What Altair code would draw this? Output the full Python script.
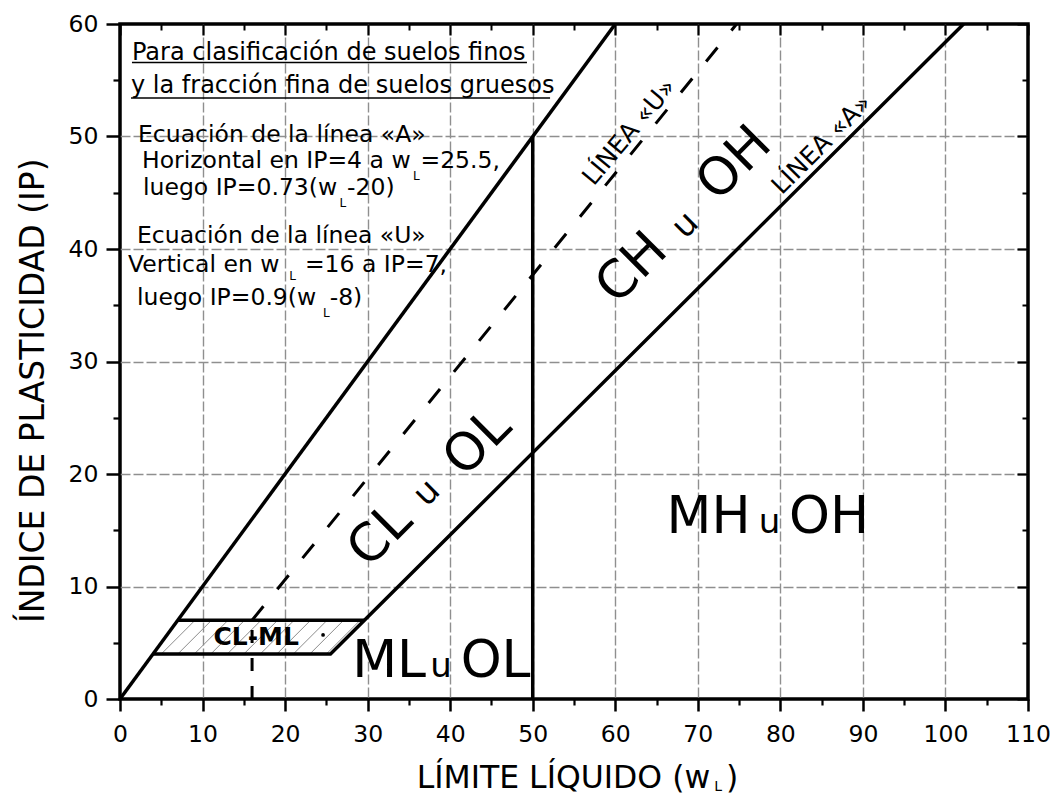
import altair as alt
import numpy as np
import pandas as pd

# ---------------- axis tick values ----------------
X_MAJOR = [0, 10, 20, 30, 40, 50, 60, 70, 80, 90, 100, 110]
X_MINOR = [5, 15, 25, 35, 45, 55, 65, 75, 85, 95, 105]
Y_MAJOR = [0, 10, 20, 30, 40, 50, 60]
Y_MINOR = [5, 15, 25, 35, 45, 55]
X_GRID = [10, 20, 30, 40, 50, 60, 70, 80, 90, 100]
Y_GRID = [10, 20, 30, 40, 50]

# ---------------- chart lines (wL, IP) ----------------
A_WL = [4, 25.5, 102.2]          # línea A
A_IP = [4, 4, 60]
UPPER_WL = [0, 60]               # límite superior IP = wL
UPPER_IP = [0, 60]
CLML_WL = [7, 29.6]              # techo de la zona CL-ML
CLML_IP = [7, 7]
V50_WL = [50, 50]                # wL = 50
V50_IP = [0, 50]
U_VERT_WL = [16, 16]             # línea U, tramo vertical
U_VERT_IP = [0, 7]
U_DIAG_WL = [16, 74.7]           # línea U, tramo inclinado
U_DIAG_IP = [7, 60]
DOT_WL = [24.6]
DOT_IP = [5.7]

# ---------------- texts ----------------
NOTE_TXT = ["Para clasificación de suelos finos",
            "y la fracción fina de suelos gruesos",
            "Ecuación de la línea «A»", "Horizontal en IP=4 a w", "=25.5,",
            "luego IP=0.73(w", "-20)",
            "Ecuación de la línea «U»", "Vertical en w", "=16 a IP=7,",
            "luego IP=0.9(w", "-8)"]
SUB_TXT = ["L", "L", "L", "L"]
ZONE_ROT_TXT = ["CL", "u", "OL", "CH", "u", "OH"]
ZONE_HOR_TXT = ["MH", "u", "OH", "ML", "u", "OL"]
LINE_TXT = ["LÍNEA «U»", "LÍNEA «A»"]
CLML_TXT = ["CL-ML"]
XTITLE_TXT = ["LÍMITE LÍQUIDO (w", "L", ")"]
YTITLE_TXT = ["ÍNDICE DE PLASTICIDAD (IP)"]

# ---------------- text placement (layout) ----------------
NOTE_POS_WL = [1.45, 1.33, 2.18, 2.67, 36.4, 2.79, 27.5, 2.06, 0.97, 22.4, 2.06, 25.4]
NOTE_POS_IP = [56.8, 53.87, 49.5, 47.2, 47.2, 44.8, 44.8, 40.5, 38.0, 38.0, 35.0, 35.0]
NOTE_SIZE = [24, 24, 23.5, 23.5, 23.5, 23.5, 23.5, 23.5, 23.5, 23.5, 23.5, 23.5]
SUB_POS_WL = [35.5, 26.6, 20.5, 24.6]
SUB_POS_IP = [46.1, 43.7, 37.25, 33.95]
UNDER_WL = [1.45, 1.33]
UNDER_WL2 = [49.3, 52.1]
UNDER_IP = [56.58, 53.42]
ROT_POS_WL = [31.5, 37.2, 43.3, 62.0, 68.5, 74.4]
ROT_POS_IP = [14.6, 18.3, 22.8, 38.3, 42.1, 47.6]
ROT_SIZE = [52, 34, 52, 52, 34, 52]
HOR_POS_WL = [71.3, 78.7, 85.9, 32.6, 38.9, 45.5]
HOR_POS_IP = [14.8, 14.8, 14.8, 1.96, 1.96, 1.96]
HOR_SIZE = [52, 34, 52, 52, 34, 52]
LINE_POS_WL = [61.7, 85.0]
LINE_POS_IP = [50.4, 49.3]
LINE_ANG = [310, 315]
CLML_POS = (16.5, 4.8)
XTITLE_WL = [71.5, 72.0, 73.4]
XTITLE_IP = [-7.9, -8.15, -7.9]
XTITLE_SIZE = [31.5, 14, 31.5]
YTITLE_POS = (-10.4, 27.4)

FONT = "DejaVu Sans"

xs = alt.Scale(domain=[0, 110], nice=False, zero=False)
ys = alt.Scale(domain=[0, 60], nice=False, zero=False)

common_axis = dict(title=None, domain=False, labelFont=FONT, labelColor="black",
                   tickColor="black")

AX_X_MAIN = alt.Axis(orient="bottom", values=X_MAJOR, tickSize=12, tickWidth=2.5,
                     labelFontSize=23.5, labelPadding=11, grid=False,
                     labelFlush=False, labelOverlap=False, **common_axis)
AX_Y_MAIN = alt.Axis(orient="left", values=Y_MAJOR, tickSize=14, tickWidth=2.5,
                     labelFontSize=23.5, labelPadding=8, grid=False,
                     labelFlush=False, labelOverlap=False, **common_axis)
AX_X_MINOR = alt.Axis(orient="bottom", values=X_MINOR, tickSize=6, tickWidth=2.2,
                      labels=False, grid=False, **common_axis)
AX_Y_MINOR = alt.Axis(orient="left", values=Y_MINOR, tickSize=7, tickWidth=2.2,
                      labels=False, grid=False, **common_axis)
AX_X_TOP = alt.Axis(orient="top", values=X_MAJOR, tickSize=11, tickWidth=2.2, offset=-11,
                    labels=False, grid=False, **common_axis)
AX_Y_RIGHT = alt.Axis(orient="right", values=Y_MAJOR, tickSize=11, tickWidth=2.2, offset=-11,
                      labels=False, grid=False, **common_axis)
AX_X_TOP_MIN = alt.Axis(orient="top", values=X_MINOR, tickSize=6, tickWidth=2.0, offset=-6,
                        labels=False, grid=False, **common_axis)
AX_Y_RIGHT_MIN = alt.Axis(orient="right", values=Y_MINOR, tickSize=6, tickWidth=2.0, offset=-6,
                          labels=False, grid=False, **common_axis)
AX_X_GRID = alt.Axis(orient="bottom", values=X_GRID, ticks=False, labels=False, grid=True,
                     gridColor="#8f8f8f", gridWidth=1.4, gridDash=[10, 3], **common_axis)
AX_Y_GRID = alt.Axis(orient="left", values=Y_GRID, ticks=False, labels=False, grid=True,
                     gridColor="#8f8f8f", gridWidth=1.4, gridDash=[10, 3], **common_axis)


def seg_df(name, wl, ip):
    return pd.DataFrame({"seg": name, "wl": wl, "ip": ip, "o": list(range(len(wl)))})


solid_df = pd.concat([seg_df("A", A_WL, A_IP), seg_df("upper", UPPER_WL, UPPER_IP),
                      seg_df("clml", CLML_WL, CLML_IP), seg_df("v50", V50_WL, V50_IP)])
uvert_df = seg_df("uv", U_VERT_WL, U_VERT_IP)
udiag_df = seg_df("ud", U_DIAG_WL, U_DIAG_IP)

# hatch of the CL-ML band, derived from its corners (45 degree strokes on screen)
band_lo, band_hi = A_IP[0], CLML_IP[0]
run = (band_hi - band_lo) * (11.25 / 8.25)
rows = []
for x0 in np.arange(1.0, A_WL[1], 2.0):
    t0 = (band_lo - x0) / (run - (band_hi - band_lo)) if x0 < band_lo else 0.0
    if t0 >= 1:
        continue
    wl1 = x0 + run * t0
    ip1 = band_lo + (band_hi - band_lo) * t0
    rows.append({"wl": wl1, "ip": ip1, "wl2": x0 + run, "ip2": band_hi})
hatch_df = pd.DataFrame(rows)

under_df = pd.DataFrame({"wl": UNDER_WL, "wl2": UNDER_WL2, "ip": UNDER_IP})


def X(ax):
    return alt.X("wl:Q", scale=xs, axis=ax)


def Y(ax):
    return alt.Y("ip:Q", scale=ys, axis=ax)


lines_solid = alt.Chart(solid_df).mark_line(
    color="black", strokeWidth=3.5, strokeJoin="miter", strokeCap="butt"
).encode(x=X(AX_X_MAIN), y=Y(AX_Y_MAIN), detail="seg:N", order="o:Q")

line_uvert = alt.Chart(uvert_df).mark_line(
    color="black", strokeWidth=3, strokeDash=[13, 15], strokeCap="butt"
).encode(x=X(AX_X_MINOR), y=Y(AX_Y_MINOR), order="o:Q")

line_udiag = alt.Chart(udiag_df).mark_line(
    color="black", strokeWidth=3, strokeDash=[18, 22], strokeCap="butt"
).encode(x=X(AX_X_TOP), y=Y(AX_Y_RIGHT), order="o:Q")

hatch = alt.Chart(hatch_df).mark_rule(color="#8c8c8c", strokeWidth=1).encode(
    x=X(AX_X_TOP_MIN), y=Y(AX_Y_RIGHT_MIN), x2="wl2:Q", y2="ip2:Q")

underline = alt.Chart(under_df).mark_rule(color="black", strokeWidth=1.6).encode(
    x=X(AX_X_GRID), y=Y(AX_Y_GRID), x2="wl2:Q")

dot = alt.Chart(pd.DataFrame({"wl": DOT_WL, "ip": DOT_IP})).mark_circle(
    color="black", size=14, opacity=1).encode(x=X(None), y=Y(None))

notes = alt.Chart(pd.DataFrame({"t": NOTE_TXT, "wl": NOTE_POS_WL, "ip": NOTE_POS_IP,
                                "fs": NOTE_SIZE})).mark_text(
    font=FONT, align="left", baseline="alphabetic", color="black"
).encode(x=X(None), y=Y(None), text="t:N", size=alt.Size("fs:Q", scale=None))

subs = alt.Chart(pd.DataFrame({"t": SUB_TXT, "wl": SUB_POS_WL, "ip": SUB_POS_IP})).mark_text(
    font=FONT, align="left", baseline="alphabetic", color="black", fontSize=12
).encode(x=X(None), y=Y(None), text="t:N")

zones_rot = alt.Chart(pd.DataFrame({"t": ZONE_ROT_TXT, "wl": ROT_POS_WL, "ip": ROT_POS_IP,
                                    "fs": ROT_SIZE})).mark_text(
    font=FONT, align="center", baseline="middle", color="black", angle=315
).encode(x=X(None), y=Y(None), text="t:N", size=alt.Size("fs:Q", scale=None))

zones_hor = alt.Chart(pd.DataFrame({"t": ZONE_HOR_TXT, "wl": HOR_POS_WL, "ip": HOR_POS_IP,
                                    "fs": HOR_SIZE})).mark_text(
    font=FONT, align="center", baseline="alphabetic", color="black"
).encode(x=X(None), y=Y(None), text="t:N", size=alt.Size("fs:Q", scale=None))

line_labels = alt.Chart(pd.DataFrame({"t": LINE_TXT, "wl": LINE_POS_WL, "ip": LINE_POS_IP,
                                      "ang": LINE_ANG})).mark_text(
    font=FONT, align="center", baseline="middle", color="black", fontSize=25
).encode(x=X(None), y=Y(None), text="t:N", angle=alt.Angle("ang:Q", scale=None))

clml = alt.Chart(pd.DataFrame({"t": CLML_TXT, "wl": [CLML_POS[0]], "ip": [CLML_POS[1]]})).mark_text(
    font=FONT, align="center", baseline="alphabetic", color="black", fontSize=25,
    fontWeight="bold"
).encode(x=X(None), y=Y(None), text="t:N")

xtitle_main = alt.Chart(pd.DataFrame({"t": XTITLE_TXT[:1], "wl": XTITLE_WL[:1],
                                      "ip": XTITLE_IP[:1]})).mark_text(
    font=FONT, baseline="alphabetic", color="black", fontSize=XTITLE_SIZE[0], align="right"
).encode(x=X(None), y=Y(None), text="t:N")

xtitle_rest = alt.Chart(pd.DataFrame({"t": XTITLE_TXT[1:], "wl": XTITLE_WL[1:],
                                      "ip": XTITLE_IP[1:], "fs": XTITLE_SIZE[1:]})).mark_text(
    font=FONT, baseline="alphabetic", color="black", align="left"
).encode(x=X(None), y=Y(None), text="t:N", size=alt.Size("fs:Q", scale=None))

ytitle = alt.Chart(pd.DataFrame({"t": YTITLE_TXT, "wl": [YTITLE_POS[0]],
                                 "ip": [YTITLE_POS[1]]})).mark_text(
    font=FONT, align="center", baseline="middle", color="black", fontSize=33, angle=270
).encode(x=X(None), y=Y(None), text="t:N")

chart = alt.layer(
    underline, hatch, line_uvert, line_udiag, lines_solid, dot,
    notes, subs, zones_rot, zones_hor, line_labels, clml,
    xtitle_main, xtitle_rest, ytitle
).resolve_axis(x="independent", y="independent").properties(
    width=908, height=675,
    padding={"left": 112, "top": 16, "right": 22, "bottom": 95},
    autosize=alt.AutoSizeParams(type="none"),
    background="white",
).configure_view(stroke="black", strokeWidth=3.5)

chart.save("out.html", embed_options={"renderer": "svg", "actions": False})
